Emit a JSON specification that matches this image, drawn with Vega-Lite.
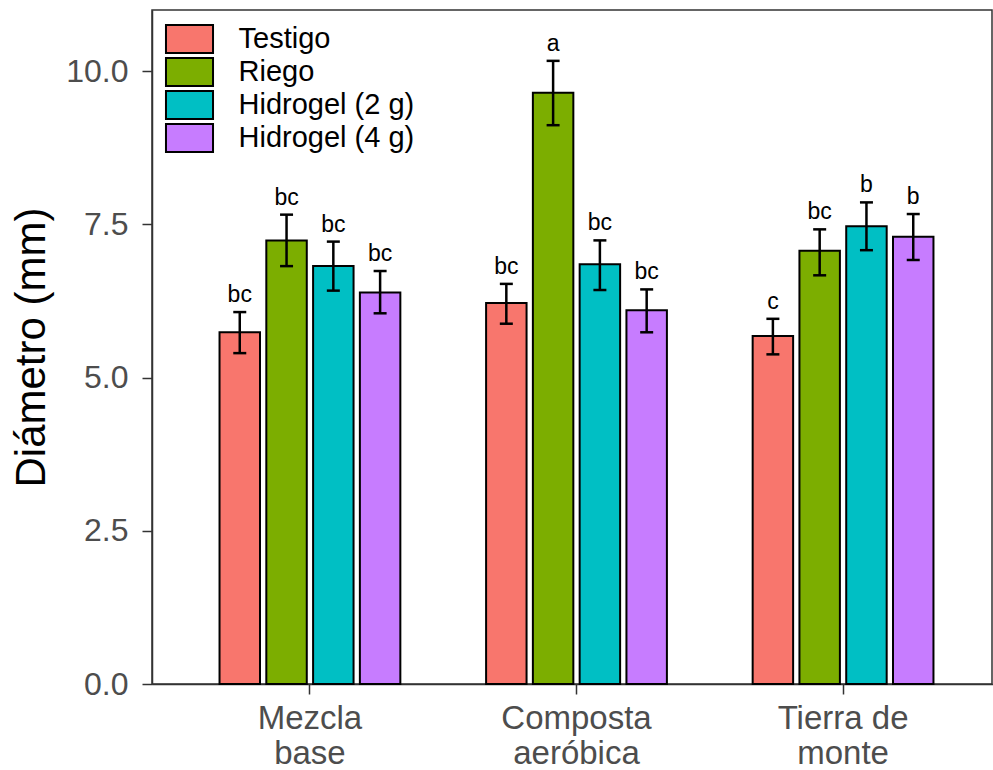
{
  "$schema": "https://vega.github.io/schema/vega-lite/v6.json",
  "width": 840,
  "height": 674,
  "autosize": {"type": "none"},
  "padding": {"left": 152, "top": 10, "right": 1, "bottom": 86},
  "background": "white",
  "config": {
    "font": "Liberation Sans",
    "view": {"stroke": "#333333", "strokeWidth": 1.5},
    "axis": {"grid": false, "domainColor": "#333333", "domainWidth": 1.5, "tickColor": "#333333", "tickWidth": 1.5, "tickSize": 10, "labelColor": "#4d4d4d", "labelLimit": 400}
  },
  "data": {
    "values": [
      {"sitio": "Mezcla base", "trat": "Testigo", "media": 5.74, "lo": 5.40, "hi": 6.07, "letra": "bc"},
      {"sitio": "Mezcla base", "trat": "Riego", "media": 7.24, "lo": 6.82, "hi": 7.66, "letra": "bc"},
      {"sitio": "Mezcla base", "trat": "Hidrogel (2 g)", "media": 6.82, "lo": 6.42, "hi": 7.22, "letra": "bc"},
      {"sitio": "Mezcla base", "trat": "Hidrogel (4 g)", "media": 6.39, "lo": 6.05, "hi": 6.74, "letra": "bc"},
      {"sitio": "Composta aeróbica", "trat": "Testigo", "media": 6.22, "lo": 5.88, "hi": 6.53, "letra": "bc"},
      {"sitio": "Composta aeróbica", "trat": "Riego", "media": 9.65, "lo": 9.12, "hi": 10.17, "letra": "a"},
      {"sitio": "Composta aeróbica", "trat": "Hidrogel (2 g)", "media": 6.85, "lo": 6.43, "hi": 7.24, "letra": "bc"},
      {"sitio": "Composta aeróbica", "trat": "Hidrogel (4 g)", "media": 6.10, "lo": 5.74, "hi": 6.44, "letra": "bc"},
      {"sitio": "Tierra de monte", "trat": "Testigo", "media": 5.68, "lo": 5.38, "hi": 5.96, "letra": "c"},
      {"sitio": "Tierra de monte", "trat": "Riego", "media": 7.07, "lo": 6.67, "hi": 7.42, "letra": "bc"},
      {"sitio": "Tierra de monte", "trat": "Hidrogel (2 g)", "media": 7.47, "lo": 7.08, "hi": 7.86, "letra": "b"},
      {"sitio": "Tierra de monte", "trat": "Hidrogel (4 g)", "media": 7.30, "lo": 6.92, "hi": 7.67, "letra": "b"}
    ]
  },
  "encoding": {
    "x": {
      "field": "sitio", "type": "nominal",
      "sort": ["Mezcla base", "Composta aeróbica", "Tierra de monte"],
      "scale": {"range": [0, 849], "paddingInner": 0.298, "paddingOuter": 0.2415},
      "axis": {
        "title": null, "labelAngle": 0, "labelFontSize": 33, "labelPadding": 8, "labelLineHeight": 35,
        "labelExpr": "datum.value == 'Tierra de monte' ? ['Tierra de', 'monte'] : split(datum.value, ' ')"
      }
    },
    "xOffset": {
      "field": "trat", "type": "nominal",
      "sort": ["Testigo", "Riego", "Hidrogel (2 g)", "Hidrogel (4 g)"],
      "scale": {"paddingInner": 0.135, "paddingOuter": 0.0675}
    }
  },
  "layer": [
    {
      "mark": {"type": "bar", "stroke": "black", "strokeWidth": 2},
      "encoding": {
        "y": {
          "field": "media", "type": "quantitative",
          "scale": {"domain": [0, 11], "nice": false},
          "axis": {
            "title": "Diámetro (mm)", "titleFontSize": 42, "titleFontWeight": "normal", "titleColor": "black", "titlePadding": 12,
            "labelFontSize": 32, "labelPadding": 14, "values": [0, 2.5, 5, 7.5, 10], "format": ".1f"
          }
        },
        "color": {
          "field": "trat", "type": "nominal",
          "sort": ["Testigo", "Riego", "Hidrogel (2 g)", "Hidrogel (4 g)"],
          "scale": {"domain": ["Testigo", "Riego", "Hidrogel (2 g)", "Hidrogel (4 g)"], "range": ["#F8766D", "#7CAE00", "#00BFC4", "#C77CFF"]},
          "legend": {
            "title": null, "orient": "none", "legendX": 22.5, "legendY": 14, "padding": 0,
            "symbolType": "M-1.68,-1H1.68V1H-1.68Z", "symbolSize": 784, "symbolStrokeColor": "black", "symbolStrokeWidth": 2, "symbolOpacity": 1,
            "labelFontSize": 29, "labelColor": "black", "labelOffset": 34, "rowPadding": -4, "labelLimit": 400
          }
        }
      }
    },
    {
      "mark": {"type": "rule", "strokeWidth": 2.5, "color": "black"},
      "encoding": {"y": {"field": "lo", "type": "quantitative"}, "y2": {"field": "hi"}}
    },
    {
      "mark": {"type": "tick", "size": 13, "thickness": 2.5, "color": "black", "opacity": 1},
      "encoding": {"y": {"field": "lo", "type": "quantitative"}}
    },
    {
      "mark": {"type": "tick", "size": 13, "thickness": 2.5, "color": "black", "opacity": 1},
      "encoding": {"y": {"field": "hi", "type": "quantitative"}}
    },
    {
      "mark": {"type": "text", "dy": -10, "baseline": "alphabetic", "fontSize": 23, "color": "black"},
      "encoding": {"y": {"field": "hi", "type": "quantitative"}, "text": {"field": "letra"}}
    }
  ]
}
